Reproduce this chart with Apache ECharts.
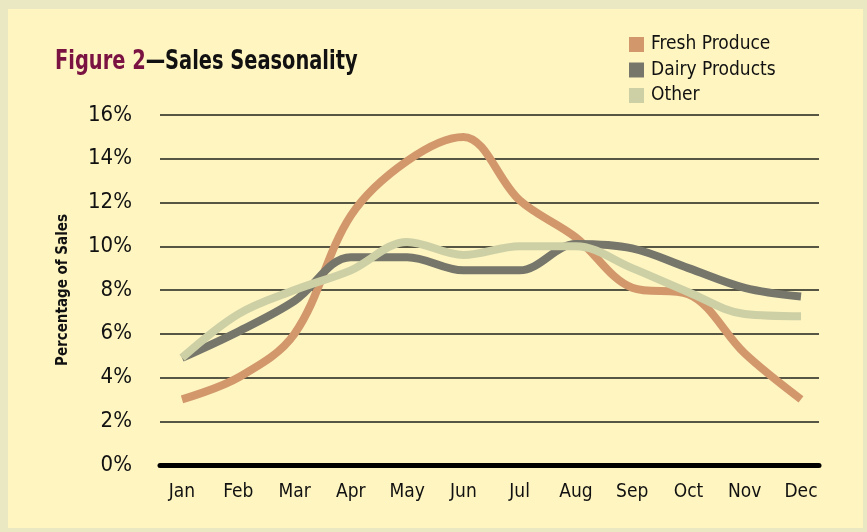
<!DOCTYPE html>
<html>
<head>
<meta charset="utf-8">
<script src="https://cdn.jsdelivr.net/npm/echarts@6/dist/echarts.min.js"></script>
<style>
  html, body { margin: 0; padding: 0; width: 867px; height: 532px; background: #E9E8C3; overflow: hidden; }
  #c { position: absolute; left: 8px; top: 9px; width: 855px; height: 519px; }
</style>
</head>
<body>
<div id="c"></div>
<script>
const months = ['Jan', 'Feb', 'Mar', 'Apr', 'May', 'Jun', 'Jul', 'Aug', 'Sep', 'Oct', 'Nov', 'Dec'];
const seriesNames = ['Fresh Produce', 'Dairy Products', 'Other'];
const freshProduce = [3.0, 4.0, 6.0, 11.4, 13.9, 15.0, 12.1, 10.4, 8.1, 7.8, 5.1, 3.0];
const dairyProducts = [4.9, 6.1, 7.5, 9.5, 9.5, 8.9, 8.9, 10.1, 9.9, 9.0, 8.1, 7.7];
const other = [4.9, 6.9, 8.0, 8.9, 10.2, 9.6, 10.0, 10.0, 9.0, 7.9, 6.9, 6.8];
const yTicks = [0, 2, 4, 6, 8, 10, 12, 14, 16];

const FONT = "'Liberation Sans Narrow', 'DejaVu Sans Condensed', 'Roboto Condensed', sans-serif";
const colors = ['#D2986C', '#76766A', '#CDCFA5'];

function pts(arr) { return arr.map((v, i) => [i, v]); }

const chart = echarts.init(document.getElementById('c'));
chart.setOption({
  backgroundColor: '#FEF5C1',
  animation: false,
  textStyle: { fontFamily: FONT },
  graphic: [{
    type: 'text',
    x: 47, y: 53,
    scaleX: 0.83, scaleY: 1,
    style: {
      text: '{a|Figure 2}{b|—Sales Seasonality}',
      verticalAlign: 'middle',
      align: 'left',
      rich: {
        a: { fontFamily: FONT, fontSize: 26, fontWeight: 'bold', fill: '#7A1242' },
        b: { fontFamily: FONT, fontSize: 26, fontWeight: 'bold', fill: '#111111' }
      }
    }
  }],
  legend: {
    orient: 'vertical',
    left: 616, top: 21,
    icon: 'rect',
    itemWidth: 15, itemHeight: 15, itemGap: 6.5,
    data: seriesNames,
    textStyle: { fontFamily: FONT, fontSize: 19, color: '#111111', padding: [0, 0, 0, 2] }
  },
  grid: { left: 152, top: 106, width: 659, height: 350, containLabel: false },
  xAxis: {
    type: 'value',
    min: -0.391, max: 11.32,
    axisLine: { show: true, onZero: true, lineStyle: { color: '#000000', width: 5 } },
    axisTick: { show: false },
    splitLine: { show: false },
    axisLabel: {
      customValues: months.map((m, i) => i),
      formatter: v => months[Math.round(v)],
      fontFamily: FONT, fontSize: 19, color: '#111111', margin: 18
    }
  },
  yAxis: {
    type: 'value',
    min: 0, max: 16, interval: 2,
    name: 'Percentage of Sales',
    nameLocation: 'middle',
    nameRotate: 90,
    nameGap: 89,
    nameTextStyle: { fontFamily: FONT, fontSize: 15, fontWeight: 'bold', color: '#111111' },
    axisLine: { show: false },
    axisTick: { show: false },
    splitLine: { show: true, lineStyle: { color: '#1F1F18', width: 1.5 } },
    axisLabel: {
      customValues: yTicks,
      formatter: '{value}%',
      fontFamily: FONT, fontSize: 22, color: '#111111', margin: 28
    }
  },
  series: [
    { name: seriesNames[0], type: 'line', data: pts(freshProduce), smooth: 0.35, showSymbol: false, symbol: 'none',
      color: colors[0], lineStyle: { width: 8, color: colors[0] }, itemStyle: { color: colors[0] } },
    { name: seriesNames[1], type: 'line', data: pts(dairyProducts), smooth: 0.35, showSymbol: false, symbol: 'none',
      color: colors[1], lineStyle: { width: 8, color: colors[1] }, itemStyle: { color: colors[1] } },
    { name: seriesNames[2], type: 'line', data: pts(other), smooth: 0.35, showSymbol: false, symbol: 'none',
      color: colors[2], lineStyle: { width: 8, color: colors[2] }, itemStyle: { color: colors[2] } }
  ]
});
</script>
</body>
</html>
